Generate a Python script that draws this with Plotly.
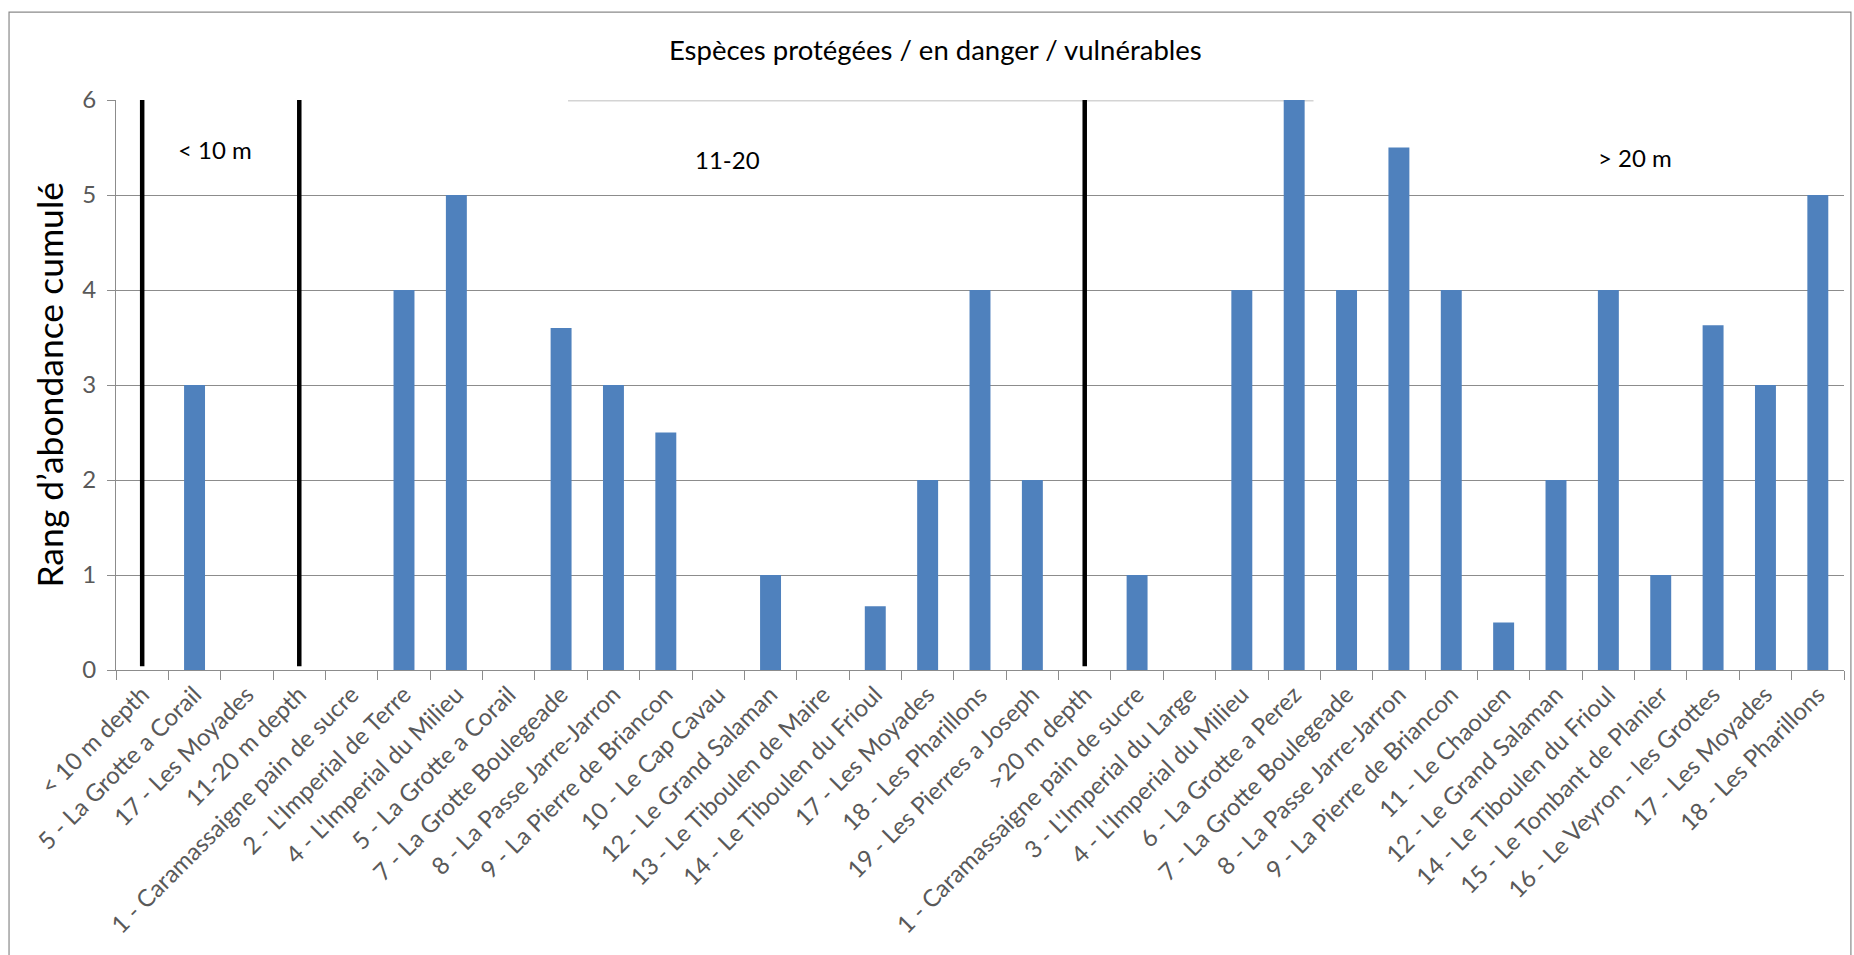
import plotly.graph_objects as go

# Sites grouped by depth band; the "depth" entries are group headers
sites = [
    "< 10 m depth", "5 - La Grotte a Corail", "17 - Les Moyades",
    "11-20 m depth", "1 - Caramassaigne pain de sucre", "2 - L'Imperial de Terre",
    "4 - L'Imperial du Milieu", "5 - La Grotte a Corail", "7 - La Grotte Boulegeade",
    "8 - La Passe Jarre-Jarron", "9 - La Pierre de Briancon", "10 - Le Cap Cavau",
    "12 - Le Grand Salaman", "13 - Le Tiboulen de Maire", "14 - Le Tiboulen du Frioul",
    "17 - Les Moyades", "18 - Les Pharillons", "19 - Les Pierres a Joseph",
    ">20 m depth", "1 - Caramassaigne pain de sucre", "3 - L'Imperial du Large",
    "4 - L'Imperial du Milieu", "6 - La Grotte a Perez", "7 - La Grotte Boulegeade",
    "8 - La Passe Jarre-Jarron", "9 - La Pierre de Briancon", "11 - Le Chaouen",
    "12 - Le Grand Salaman", "14 - Le Tiboulen du Frioul", "15 - Le Tombant de Planier",
    "16 - Le Veyron - les Grottes", "17 - Les Moyades", "18 - Les Pharillons",
]
rang = [
    0, 3, 0,
    0, 0, 4,
    5, 0, 3.6,
    3, 2.5, 0,
    1, 0, 0.67,
    2, 4, 2,
    0, 1, 0,
    4, 6, 4,
    5.5, 4, 0.5,
    2, 4, 1,
    3.63, 3, 5,
]
zone_labels = ["< 10 m", "11-20", "> 20 m"]
zone_label_pos = [(1.39, 5.48), (11.17, 5.37), (28.5, 5.39)]
y_ticks = [0, 1, 2, 3, 4, 5, 6]

FONT = "Lato"
GREY_TXT = "#595959"
GRID = "#8c8c8c"
BLUE = "#4F81BD"

xpos = list(range(len(sites)))
headers = [i for i, s in enumerate(sites) if s.endswith("depth")]

fig = go.Figure()
fig.add_trace(go.Bar(x=xpos, y=rang, marker=dict(color=BLUE, line=dict(width=0)),
                     showlegend=False))

# vertical separators at each depth-band header
sx, sy = [], []
for i in headers:
    sx += [i, i, None]
    sy += [0.04, max(y_ticks), None]
fig.add_trace(go.Scatter(x=sx, y=sy, mode="lines", line=dict(color="black", width=4.5),
                         showlegend=False, hoverinfo="skip"))

for txt, (ax, ay) in zip(zone_labels, zone_label_pos):
    fig.add_annotation(x=ax, y=ay, xref="x", yref="y", text=txt, showarrow=False,
                       font=dict(family=FONT, size=24, color="black"))

# y-axis title
fig.add_annotation(x=-0.039, y=0.5, xref="paper", yref="paper",
                   text="Rang d\u2019abondance cumulé", textangle=-90, showarrow=False,
                   font=dict(family=FONT, size=35.5, color="black"),
                   xanchor="center", yanchor="middle")

# text box of the middle band hiding the top gridline
fig.add_shape(type="line", xref="paper", yref="y", x0=0.2616, x1=0.693, y0=6, y1=6,
              line=dict(color="white", width=3), layer="between")
fig.add_shape(type="line", xref="paper", yref="paper", x0=0.2616, x1=0.693,
              y0=0.9985, y1=0.9985, line=dict(color="#d4d4d4", width=1.5), layer="between")

# outer chart border
fig.add_shape(type="rect", xref="paper", yref="paper", x0=-0.0619, x1=1.004,
              y0=-0.6, y1=1.154, line=dict(color="#8a8a8a", width=1.2), layer="above")

fig.update_layout(
    width=1854, height=955,
    margin=dict(l=116, r=10, t=100, b=285),
    paper_bgcolor="white", plot_bgcolor="white",
    bargap=0.6,
    title=dict(text="Espèces protégées / en danger / vulnérables",
               x=0.5045, y=0.947, xanchor="center", yanchor="middle",
               font=dict(family=FONT, size=27.5, color="black")),
    xaxis=dict(
        range=[-0.5, len(sites) - 0.5], automargin=False,
        tickmode="array", tickvals=xpos, ticktext=sites, tickangle=-45,
        tickfont=dict(family=FONT, size=24, color=GREY_TXT),
        ticks="", showgrid=False, zeroline=False,
        showline=True, linecolor=GRID, linewidth=1.2,
        minor=dict(tickmode="linear", tick0=-0.5, dtick=1, ticks="outside",
                   ticklen=9, tickcolor=GRID, tickwidth=1.2, showgrid=False),
    ),
    yaxis=dict(
        range=[0, max(y_ticks)], tickmode="array", tickvals=y_ticks, automargin=False,
        tickfont=dict(family=FONT, size=24, color=GREY_TXT),
        ticks="outside", ticklen=8, tickcolor=GRID, tickwidth=1.2,
        ticklabelstandoff=6,
        showgrid=True, gridcolor=GRID, gridwidth=1.2, zeroline=False,
        showline=True, linecolor=GRID, linewidth=1.2,
    ),
)

fig.write_html("out.html")
